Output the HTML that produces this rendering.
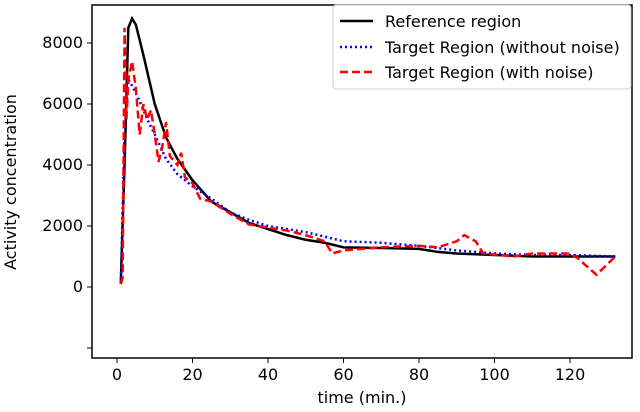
<!DOCTYPE html>
<html><head><meta charset="utf-8"><style>
body{margin:0;background:#fff;font-family:"Liberation Sans","DejaVu Sans",sans-serif}
svg text{font-family:"DejaVu Sans","Liberation Sans",sans-serif;font-size:16px;fill:#000}
</style></head><body>
<svg id="chart" width="640" height="407" xmlns="http://www.w3.org/2000/svg">
<g id="ticks"></g>
<g id="series"></g>
<rect x="92" y="5" width="540" height="353" fill="none" stroke="#000" stroke-width="1.5"/>
<text x="362" y="403" text-anchor="middle">time (min.)</text>
<text transform="translate(16,182) rotate(-90)" text-anchor="middle">Activity concentration</text>
<g>
<rect x="333" y="5" width="298" height="84" rx="3" fill="#fff" stroke="#ccc" stroke-width="1"/>
<line x1="340" y1="21" x2="373" y2="21" stroke="#000" stroke-width="2.5"/>
<text x="385" y="27">Reference region</text>
<line x1="340" y1="47" x2="373" y2="47" stroke="#0000ff" stroke-width="2.5" stroke-dasharray="2,3"/>
<text x="385" y="53">Target Region (without noise)</text>
<line x1="340" y1="72" x2="373" y2="72" stroke="#ff0000" stroke-width="2.5" stroke-dasharray="8,4"/>
<text x="385" y="78">Target Region (with noise)</text>
</g>
</svg>
<script>
const xTicks=[0,20,40,60,80,100,120];
const yTicks=[-2000,0,2000,4000,6000,8000];
const refT=[1,2,3,4,5,7,10,13,16,20,25,30,35,40,45,50,55,60,70,80,85,90,100,110,120,132];
const refV=[100,4000,8500,8800,8600,7600,6000,4900,4200,3500,2800,2450,2100,1900,1700,1550,1450,1300,1280,1250,1150,1100,1050,1000,1000,1000];
const cleanT=[1,2,3,4,6,8,10,13,16,20,25,30,35,40,50,60,70,80,90,100,110,120,132];
const cleanV=[100,5000,6800,6600,6100,5500,5000,4200,3700,3300,2900,2450,2200,2000,1800,1500,1450,1350,1200,1100,1050,1050,1000];
const noisyT=[1,1.5,2,2.5,3,4,5,6,7,8,9,10,11,12,13,14,16,17,18,20,22,25,30,35,40,45,50,55,57,60,70,80,85,90,92,95,97,105,110,120,122,127,132];
const noisyV=[100,300,8500,5500,6800,7400,6500,5000,6000,5500,5800,5000,4100,4600,5400,4300,4000,4400,3600,3400,2900,2800,2400,2050,1950,1850,1700,1500,1100,1200,1300,1350,1300,1500,1700,1500,1100,1000,1100,1100,950,400,1000];
const NS="http://www.w3.org/2000/svg";
function xs(t){return 117+t*(570-117)/120;}
function ys(v){return 287-v*(287-43)/8000;}
const tg=document.getElementById('ticks');
xTicks.forEach(t=>{
 const l=document.createElementNS(NS,'line');
 
 
 l.setAttribute('x1',xs(t));l.setAttribute('x2',xs(t));l.setAttribute('y1',358);l.setAttribute('y2',363);l.setAttribute('stroke','#000');
 tg.appendChild(l);
 const tx=document.createElementNS(NS,'text');
 
 
 tx.setAttribute('x',xs(t));tx.setAttribute('y',380);tx.setAttribute('text-anchor','middle');tx.textContent=t;
 tg.appendChild(tx);
});
yTicks.forEach(v=>{
 const l=document.createElementNS(NS,'line');
 
 
 l.setAttribute('x1',87);l.setAttribute('x2',92);l.setAttribute('y1',ys(v));l.setAttribute('y2',ys(v));l.setAttribute('stroke','#000');
 tg.appendChild(l);
 if(v>=0){
 const tx=document.createElementNS(NS,'text');
 
 
 tx.setAttribute('x',83);tx.setAttribute('y',ys(v)+5);tx.setAttribute('text-anchor','end');tx.textContent=v;
 tg.appendChild(tx);}
});
const sg=document.getElementById('series');
function line(T,V,color,dash,name){
 const p=document.createElementNS(NS,'polyline');
 
 
 p.setAttribute('points',T.map((t,i)=>xs(t)+','+ys(V[i])).join(' '));
 p.setAttribute('fill','none');p.setAttribute('stroke',color);p.setAttribute('stroke-width',2.5);
 if(dash)p.setAttribute('stroke-dasharray',dash);
 sg.appendChild(p);
}
line(refT,refV,'#000',null,'reference-region-line');
line(cleanT,cleanV,'#0000ff','2,3','target-clean-line');
line(noisyT,noisyV,'#ff0000','8,4','target-noisy-line');
</script>
</body></html>
